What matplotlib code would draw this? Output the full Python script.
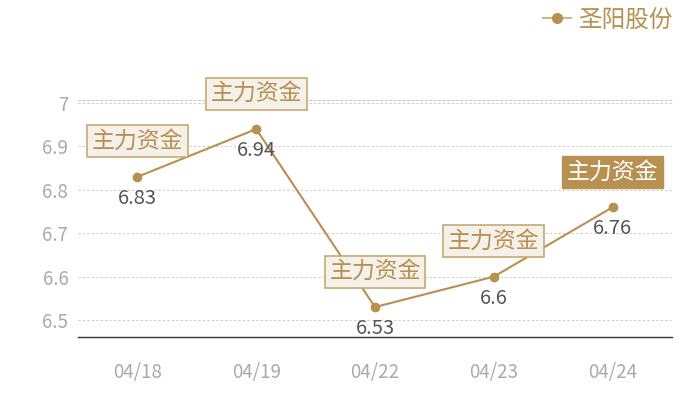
import matplotlib
matplotlib.use("Agg")
import matplotlib.pyplot as plt
from matplotlib.lines import Line2D

plt.rcParams['font.family'] = ['Noto Sans CJK SC', 'DejaVu Sans']

dates = ["04/18", "04/19", "04/22", "04/23", "04/24"]
prices = [6.83, 6.94, 6.53, 6.6, 6.76]
value_labels = ["6.83", "6.94", "6.53", "6.6", "6.76"]
notes = ["主力资金", "主力资金", "主力资金", "主力资金", "主力资金"]
note_filled = [False, False, False, False, True]
series_name = "圣阳股份"
yticks = [6.5, 6.6, 6.7, 6.8, 6.9, 7.0]
ytick_labels = ["6.5", "6.6", "6.7", "6.8", "6.9", "7"]

gold = "#b8904f"

fig = plt.figure(figsize=(7, 4), dpi=100)
ax = fig.add_axes([78/700, 63/400, 594/700, 237/400])
x = list(range(len(dates)))
ax.plot(x, prices, color=gold, lw=1.5, marker='o', ms=6, label=series_name, zorder=3)

ax.set_xlim(-0.5, len(dates) - 0.5)
ax.set_ylim(6.461, 7.007)
ax.set_yticks(yticks)
ax.set_yticklabels(ytick_labels)
ax.set_xticks(x)
ax.set_xticklabels(dates)
ax.tick_params(axis='both', length=0, colors='#aaaaaa', labelsize=13.5)
ax.tick_params(axis='x', pad=18)
ax.tick_params(axis='y', pad=7)
for t in yticks:
    ax.axhline(t, color='#cccccc', lw=0.8, ls=(0, (2, 2)), zorder=1)
for s in ['left', 'right']:
    ax.spines[s].set_visible(False)
ax.spines['top'].set_color('#cccccc')
ax.spines['top'].set_linestyle((0, (2, 2)))
ax.spines['top'].set_linewidth(0.8)
ax.spines['bottom'].set_color('#333333')
ax.spines['bottom'].set_linewidth(1)

for xi, p, lab in zip(x, prices, value_labels):
    ax.annotate(lab, (xi, p), xytext=(0, -8), textcoords='offset points',
                ha='center', va='top', fontsize=14.5, color='#555555', zorder=4)

for xi, p, n, f in zip(x, prices, notes, note_filled):
    if f:
        bbox = dict(boxstyle='square,pad=0.2', fc=gold, ec=gold, lw=1)
        tc = 'white'
    else:
        bbox = dict(boxstyle='square,pad=0.2', fc='#f4f0ea', ec='#c9a86f', lw=1.2)
        tc = gold
    ax.annotate(n, (xi, p), xytext=(0, 25.5), textcoords='offset points',
                ha='center', va='center', fontsize=16.5, color=tc, bbox=bbox, zorder=5)

handle = Line2D([], [], color='#d2b685', lw=1.5, marker='o', ms=7,
                markerfacecolor=gold, markeredgecolor=gold)
leg = ax.legend([handle], [series_name], loc='center right',
                bbox_to_anchor=(673/700, 1 - 20/400), bbox_transform=fig.transFigure,
                frameon=False, fontsize=17, handlelength=1.2, handletextpad=0.3,
                borderaxespad=0, borderpad=0)
for t in leg.get_texts():
    t.set_color(gold)

fig.savefig("out.png", dpi=100)
